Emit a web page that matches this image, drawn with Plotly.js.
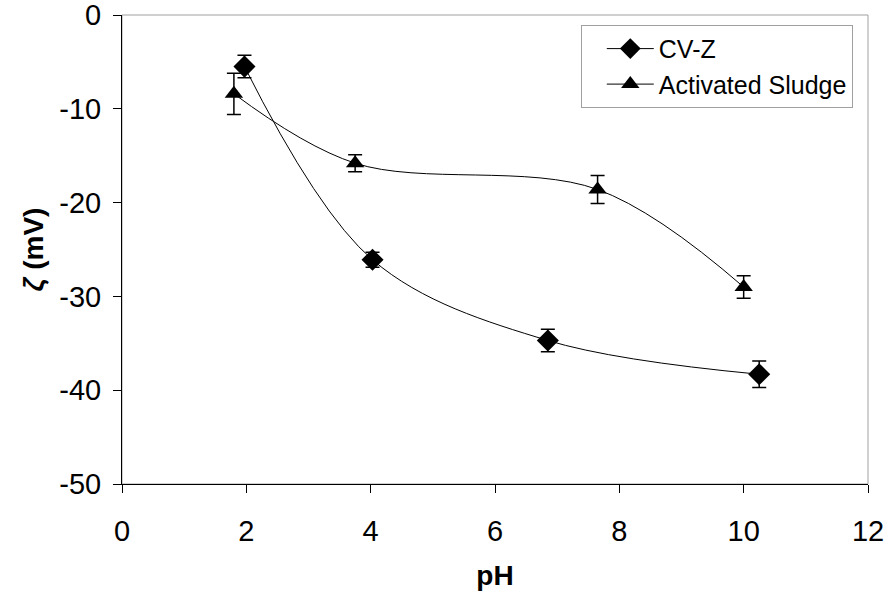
<!DOCTYPE html>
<html>
<head>
<meta charset="utf-8">
<script src="https://cdn.plot.ly/plotly-3.0.1.min.js"></script>
<style>html,body{margin:0;padding:0;background:#fff;}#chart{width:896px;height:601px;}</style>
</head>
<body>
<div id="chart"></div>
<script>
var cvzPH = [1.97, 4.03, 6.85, 10.25];
var cvzZeta = [-5.5, -26.1, -34.7, -38.3];
var cvzErr = [1.2, 0.8, 1.2, 1.4];

var asPH = [1.8, 3.75, 7.65, 10.0];
var asZeta = [-8.4, -15.8, -18.6, -29.0];
var asErr = [2.2, 0.9, 1.5, 1.2];

var xTickVals = [0, 2, 4, 6, 8, 10, 12];
var xTickText = ['0', '2', '4', '6', '8', '10', '12'];
var yTickVals = [0, -10, -20, -30, -40, -50];
var yTickText = ['0', '-10', '-20', '-30', '-40', '-50'];

var traces = [
  {
    x: cvzPH, y: cvzZeta, name: 'CV-Z', type: 'scatter', mode: 'lines+markers',
    line: {color: '#000', width: 1, shape: 'spline', smoothing: 1},
    marker: {symbol: 'diamond', size: 17, color: '#000'},
    error_y: {type: 'data', array: cvzErr, visible: true, color: '#000', thickness: 1.5, width: 7}
  },
  {
    x: asPH, y: asZeta, name: 'Activated Sludge', type: 'scatter', mode: 'lines+markers',
    line: {color: '#000', width: 1, shape: 'spline', smoothing: 1},
    marker: {symbol: 'triangle-up', size: 16, color: '#000'},
    error_y: {type: 'data', array: asErr, visible: true, color: '#000', thickness: 1.5, width: 7}
  }
];

var layout = {
  width: 896, height: 601,
  margin: {l: 122, r: 28, t: 15, b: 117},
  paper_bgcolor: '#fff', plot_bgcolor: '#fff',
  font: {family: 'Arial, "Liberation Sans", sans-serif', color: '#000', size: 29},
  showlegend: true,
  legend: {
    x: 0.615, y: 0.979, xanchor: 'left', yanchor: 'top',
    bordercolor: '#a0a0a0', borderwidth: 1, bgcolor: '#fff',
    font: {size: 25}, itemwidth: 47, indentation: 20, tracegroupgap: 6
  },
  xaxis: {
    range: [0, 12], tickmode: 'array', tickvals: xTickVals, ticktext: xTickText,
    showline: true, linecolor: '#000', linewidth: 1,
    ticks: 'outside', ticklen: 8, tickcolor: '#000',
    showgrid: false, zeroline: false, ticklabelstandoff: 13,
    ticklabeloverflow: 'allow',
    tickfont: {size: 29},
    title: {text: '<b>pH</b>', font: {size: 28}, standoff: 19}
  },
  yaxis: {
    range: [-50, 0], tickmode: 'array', tickvals: yTickVals, ticktext: yTickText,
    showline: true, linecolor: '#000', linewidth: 1,
    ticks: 'outside', ticklen: 8, tickcolor: '#000',
    showgrid: false, zeroline: false, ticklabelstandoff: 6,
    ticklabeloverflow: 'allow',
    tickfont: {size: 29},
    title: {text: '<b><i>ζ</i> (mV)</b>', font: {size: 28}, standoff: 7}
  },
  shapes: [
    {type: 'rect', xref: 'paper', yref: 'paper', x0: 0, x1: 1, y0: 0, y1: 1,
     line: {color: '#a0a0a0', width: 1}, layer: 'below'}
  ]
};

Plotly.newPlot('chart', traces, layout, {displayModeBar: false, staticPlot: true});
</script>
</body>
</html>
